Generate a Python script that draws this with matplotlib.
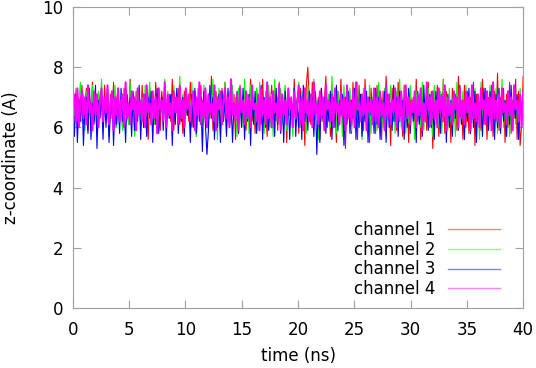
import numpy as np
import matplotlib
matplotlib.use("Agg")
import matplotlib.pyplot as plt

# z-coordinate per channel (A), sampled evenly over 0-40 ns
channel1 = [6.9,6.3,7.2,6.0,7.0,6.6,7.4,6.1,6.8,7.3,5.9,7.1,6.4,7.5,6.2,6.9,5.8,7.2,6.6,7.0,
            6.1,7.4,6.5,6.8,5.7,7.1,6.3,7.5,6.0,6.9,7.2,6.2,7.0,5.9,7.3,6.6,6.8,6.1,7.6,6.4,
            7.0,5.8,7.2,6.5,6.9,6.2,7.4,6.0,7.1,6.7,5.6,7.3,6.4,6.9,6.1,7.5,6.3,7.0,5.9,7.2,
            6.6,7.4,6.0,6.8,7.1,6.2,7.6,5.9,7.0,6.5,7.3,6.1,6.9,5.8,7.2,6.4,7.0,6.2,7.5,6.0,
            6.8,7.2,5.7,7.0,6.5,7.4,6.1,6.9,7.3,6.0,7.1,6.3,7.7,5.9,6.8,7.2,6.4,7.0,5.8,7.3,
            6.2,7.5,6.6,6.9,6.0,7.2,6.4,7.1,5.6,7.0,6.7,7.4,6.1,6.8,7.3,5.9,7.1,6.5,7.6,6.2,
            6.9,5.8,7.3,6.4,7.0,6.1,7.6,6.3,6.8,5.7,7.2,6.6,7.4,6.0,6.9,7.1,5.9,7.5,6.2,7.0,
            6.5,7.3,5.5,7.1,6.4,6.9,6.0,7.6,6.2,7.0,5.8,7.3,6.6,7.1,5.4,7.4,8.0,6.9,6.1,7.5,
            5.9,7.2,6.5,7.0,5.6,7.3,6.2,6.8,7.7,6.0,7.1,5.7,7.4,6.4,6.9,5.5,7.2,6.3,7.6,6.1,
            7.0,5.3,7.3,6.5,6.9,5.8,7.5,6.2,7.1,5.6,7.4,6.4,6.8,5.9,7.6,6.1,7.0,5.5,7.3,6.6,
            7.1,5.8,7.4,6.3,6.9,5.6,7.2,6.0,7.7,6.4,7.0,5.4,7.3,6.2,6.9,5.9,7.5,6.5,7.1,5.7,
            7.4,6.1,6.8,5.5,7.2,6.4,7.0,5.8,7.6,6.2,7.1,5.6,7.3,6.5,6.9,5.9,7.5,6.0,7.2,5.3,
            7.0,6.4,7.4,5.7,6.9,6.1,7.6,5.8,7.2,6.6,7.0,5.5,7.3,6.2,7.1,5.9,7.7,6.4,6.9,5.6,
            7.4,6.0,7.2,5.8,7.0,6.5,7.5,5.4,7.1,6.3,6.8,5.9,7.6,6.1,7.3,5.6,7.0,6.6,7.4,5.7,
            7.2,6.2,7.8,5.9,7.0,6.4,7.3,5.5,7.1,6.0,7.5,5.8,6.9,6.3,7.6,5.6,7.2,5.4,6.1,7.7]
channel2 = [7.0,6.4,7.3,6.1,6.9,7.5,6.2,7.1,5.9,7.2,6.5,6.9,6.0,7.4,6.3,6.8,5.8,7.2,6.6,7.6,
            6.2,7.0,6.4,7.3,5.8,6.9,7.1,6.3,7.4,6.0,7.0,6.5,6.8,5.9,7.2,6.4,7.0,6.1,7.5,6.3,
            6.9,5.7,7.2,6.5,7.3,6.0,7.0,6.2,7.4,5.9,6.8,7.5,6.4,7.1,6.1,7.0,5.8,7.3,6.6,6.9,
            6.2,7.6,6.0,7.2,6.3,7.0,5.8,7.4,6.5,6.9,6.1,7.7,6.3,7.1,5.9,7.2,6.4,7.0,6.0,7.5,
            6.2,6.9,5.7,7.3,6.6,7.1,6.1,7.4,6.3,6.8,5.9,7.2,6.5,7.6,6.0,7.0,5.6,7.3,6.4,7.1,
            6.2,7.5,5.8,6.9,7.2,6.1,7.4,6.3,7.0,5.7,7.3,6.5,6.9,6.0,7.6,6.2,7.1,5.8,7.4,6.4,
            7.0,6.1,7.3,5.9,7.5,6.3,6.9,5.8,7.2,6.6,7.4,6.0,7.1,5.7,7.6,6.2,7.0,6.4,7.3,6.1,
            6.8,7.4,5.9,7.1,6.4,7.0,5.7,7.3,6.2,6.9,7.5,6.0,7.2,6.5,6.8,5.8,7.4,6.3,7.0,6.1,
            7.6,6.4,6.9,5.6,7.2,6.2,7.0,5.9,7.3,6.5,7.1,6.0,7.7,6.3,6.9,5.8,7.2,6.4,7.0,5.7,
            7.4,6.1,7.0,6.5,7.3,5.9,6.8,7.2,6.2,7.5,6.0,7.1,5.6,7.3,6.4,6.9,6.1,7.4,5.8,7.0,
            6.6,7.2,5.9,7.5,6.3,7.0,6.0,7.3,5.7,6.9,6.5,7.4,6.1,7.1,5.8,7.2,6.4,7.6,6.0,6.9,
            7.3,5.8,7.0,6.2,7.4,6.5,6.8,5.6,7.2,6.3,7.1,6.0,7.5,5.9,6.9,6.6,7.3,6.1,7.0,5.7,
            7.4,6.3,6.9,6.0,7.2,5.8,7.6,6.4,7.0,5.9,7.3,6.2,6.8,7.1,5.7,7.5,6.5,7.0,6.1,7.2,
            5.9,7.4,6.3,6.9,5.8,7.1,6.6,7.3,6.0,7.0,5.6,7.5,6.2,6.9,6.4,7.2,5.9,7.4,6.1,7.0,
            6.5,7.3,5.8,7.1,6.2,7.6,6.0,6.9,6.4,7.2,5.7,7.0,6.3,7.4,6.1,6.8,5.9,7.3,6.5,7.1]
channel3 = [6.8,5.7,7.1,5.5,6.9,6.2,7.2,5.4,6.7,7.0,5.8,7.3,5.6,6.8,6.1,7.4,5.3,6.9,6.3,7.1,
            5.6,7.0,6.0,7.3,5.5,6.6,7.2,5.4,6.9,6.1,7.0,5.8,7.3,6.2,6.8,5.5,7.1,6.4,7.0,5.7,
            7.2,5.9,6.9,6.2,7.4,5.6,6.8,6.0,7.1,5.7,7.0,6.3,7.2,5.5,6.9,6.1,7.3,5.8,6.7,7.0,
            5.9,7.2,5.6,6.9,6.3,7.1,5.4,7.0,6.1,7.3,5.8,6.8,6.2,7.0,5.7,7.2,6.4,6.9,5.5,7.1,
            6.0,7.3,5.8,6.8,6.2,7.0,5.2,7.2,6.1,5.1,5.9,7.4,6.3,7.0,5.6,6.8,6.0,7.1,5.5,7.2,
            6.2,6.9,5.7,7.3,6.1,7.0,5.5,6.8,6.4,7.2,5.8,7.0,6.0,7.3,5.6,6.9,6.2,7.1,5.4,7.0,
            6.1,7.2,5.8,6.9,6.3,7.4,5.6,7.0,6.0,7.2,5.9,6.8,6.2,7.1,5.7,7.3,6.1,6.9,5.8,7.0,
            5.5,7.2,6.2,6.8,5.6,7.0,6.3,7.3,5.7,6.9,6.0,7.1,5.6,7.4,6.2,6.8,5.9,7.2,6.4,7.0,
            5.7,7.1,5.1,6.9,5.5,7.3,6.3,7.0,5.8,6.8,6.2,7.2,5.6,7.0,6.0,7.4,5.9,6.9,6.4,7.1,
            5.4,7.0,6.1,7.2,5.8,6.9,6.3,7.3,5.6,7.0,6.0,7.1,5.7,6.8,6.2,7.2,5.5,7.0,6.4,6.9,
            5.8,7.3,6.1,7.0,5.6,6.9,6.3,7.2,5.5,7.1,6.0,6.8,5.9,7.4,6.2,7.0,5.7,7.2,6.4,6.9,
            5.6,7.1,6.0,7.3,5.8,6.9,6.2,7.0,5.5,7.2,6.1,6.8,5.7,7.4,6.3,7.0,5.9,7.1,6.0,6.9,
            5.6,7.2,6.2,7.0,5.8,6.8,6.4,7.3,5.5,7.1,6.0,6.9,5.7,7.2,6.3,7.0,5.9,7.4,6.1,6.8,
            5.6,7.1,6.2,7.3,5.8,6.9,6.0,7.2,5.5,7.0,6.4,6.8,5.7,7.3,6.1,7.0,5.9,7.2,6.3,6.9,
            5.6,7.1,6.0,7.3,5.8,7.0,6.2,6.9,5.7,7.2,6.1,7.4,5.9,6.8,6.3,7.1,5.6,7.0,6.2,6.8]
channel4 = [6.6,7.1,6.2,7.3,6.0,6.9,7.2,6.3,7.0,6.1,7.4,6.5,6.8,5.9,7.2,6.4,7.1,6.0,6.9,7.3,
            6.2,7.0,6.5,7.4,6.1,6.8,7.2,5.9,7.0,6.4,7.3,6.2,6.9,7.1,6.0,7.5,6.3,6.8,6.1,7.2,
            6.6,7.0,5.9,7.3,6.4,6.9,6.2,7.1,6.0,7.4,6.5,6.8,6.1,7.2,6.3,7.0,5.8,7.3,6.6,6.9,
            6.2,7.5,6.0,7.1,6.4,6.8,5.9,7.2,6.5,7.0,6.1,7.4,6.3,6.9,6.0,7.3,6.6,7.1,6.2,6.8,
            7.2,5.9,7.0,6.4,7.5,6.1,6.9,6.3,7.3,6.0,7.1,6.5,6.8,6.2,7.4,5.9,7.0,6.6,7.2,6.1,
            6.9,7.3,6.3,7.0,6.0,7.6,6.4,6.8,6.2,7.1,5.9,7.3,6.5,6.9,6.1,7.2,6.3,7.0,6.0,7.4,
            6.6,6.8,6.2,7.1,5.9,7.3,6.4,6.9,6.1,7.5,6.3,7.0,6.0,7.2,6.5,6.8,6.2,7.4,5.9,7.1,
            6.4,6.9,6.1,7.3,6.6,7.0,6.0,7.2,6.3,6.8,7.4,6.1,7.0,5.9,7.3,6.5,6.9,6.2,7.1,6.0,
            7.5,6.4,6.8,6.1,7.2,6.3,7.0,5.9,7.4,6.6,6.9,6.2,7.1,6.0,7.3,6.5,6.8,6.1,7.2,6.4,
            7.0,5.9,7.4,6.3,6.9,6.1,7.2,6.0,7.5,6.6,6.8,6.2,7.1,6.4,7.3,5.9,7.0,6.5,6.9,6.1,
            7.3,6.2,7.0,6.0,7.2,6.4,6.8,5.9,7.4,6.3,7.1,6.1,6.9,6.5,7.3,6.0,7.0,6.2,7.2,5.9,
            6.8,7.4,6.3,7.0,6.1,6.9,6.5,7.2,6.0,7.1,6.4,7.3,5.9,6.8,6.2,7.5,6.6,7.0,6.1,7.2,
            6.3,6.9,6.0,7.3,6.5,7.1,6.2,7.4,5.9,7.0,6.4,6.8,6.1,7.2,6.6,7.0,6.0,7.3,6.3,6.9,
            6.1,7.2,6.5,7.0,5.9,7.4,6.3,6.8,6.2,7.1,6.0,7.3,6.6,6.9,6.1,7.2,6.4,7.0,5.9,7.5,
            6.3,6.9,6.2,7.1,6.0,7.3,6.5,6.8,6.1,7.2,6.4,7.0,5.9,7.4,6.6,6.9,6.2,7.1,6.0,7.2]

series = [channel1, channel2, channel3, channel4]
labels = ["channel 1", "channel 2", "channel 3", "channel 4"]
colors = ["#ff0000", "#00ff00", "#0000ff", "#ff00ff"]
widths = [0.8, 0.8, 0.8, 1.4]
legend_colors = ["#ff8080", "#80ff80", "#8080ff", "#ff80ff"]

plt.rcParams["font.family"] = "DejaVu Sans"
fig = plt.figure(figsize=(5.36, 3.68), dpi=100)
ax = fig.add_axes([0.136, 0.163, 0.84, 0.818])

for vals, lab, col, lw in zip(series, labels, colors, widths):
    t = np.linspace(0, 40, len(vals))
    ax.plot(t, vals, color=col, lw=lw, label=lab)

ax.set_xlim(0, 40)
ax.set_ylim(0, 10)
ax.set_xticks(range(0, 41, 5))
ax.set_yticks(range(0, 11, 2))
ax.set_xlabel("time (ns)", fontsize=12, labelpad=6)
ax.set_ylabel("z-coordinate (A)", fontsize=12, labelpad=16)
ax.tick_params(direction="in", length=6, color="#a0a0a0", labelsize=12,
               top=True, right=True)
ax.tick_params(axis="x", pad=9)
ax.tick_params(axis="y", pad=7)
for s in ax.spines.values():
    s.set_color("#a0a0a0")

leg = ax.legend(loc="lower right", bbox_to_anchor=(500 / 536, 70 / 368),
                bbox_transform=fig.transFigure, frameon=False,
                markerfirst=False, fontsize=12, handlelength=3.1,
                labelspacing=0.1, handletextpad=0.8, borderpad=0,
                borderaxespad=0)
for h, c in zip(leg.get_lines(), legend_colors):
    h.set_color(c)
    h.set_linewidth(1.0)

fig.savefig("out.png", dpi=100)
